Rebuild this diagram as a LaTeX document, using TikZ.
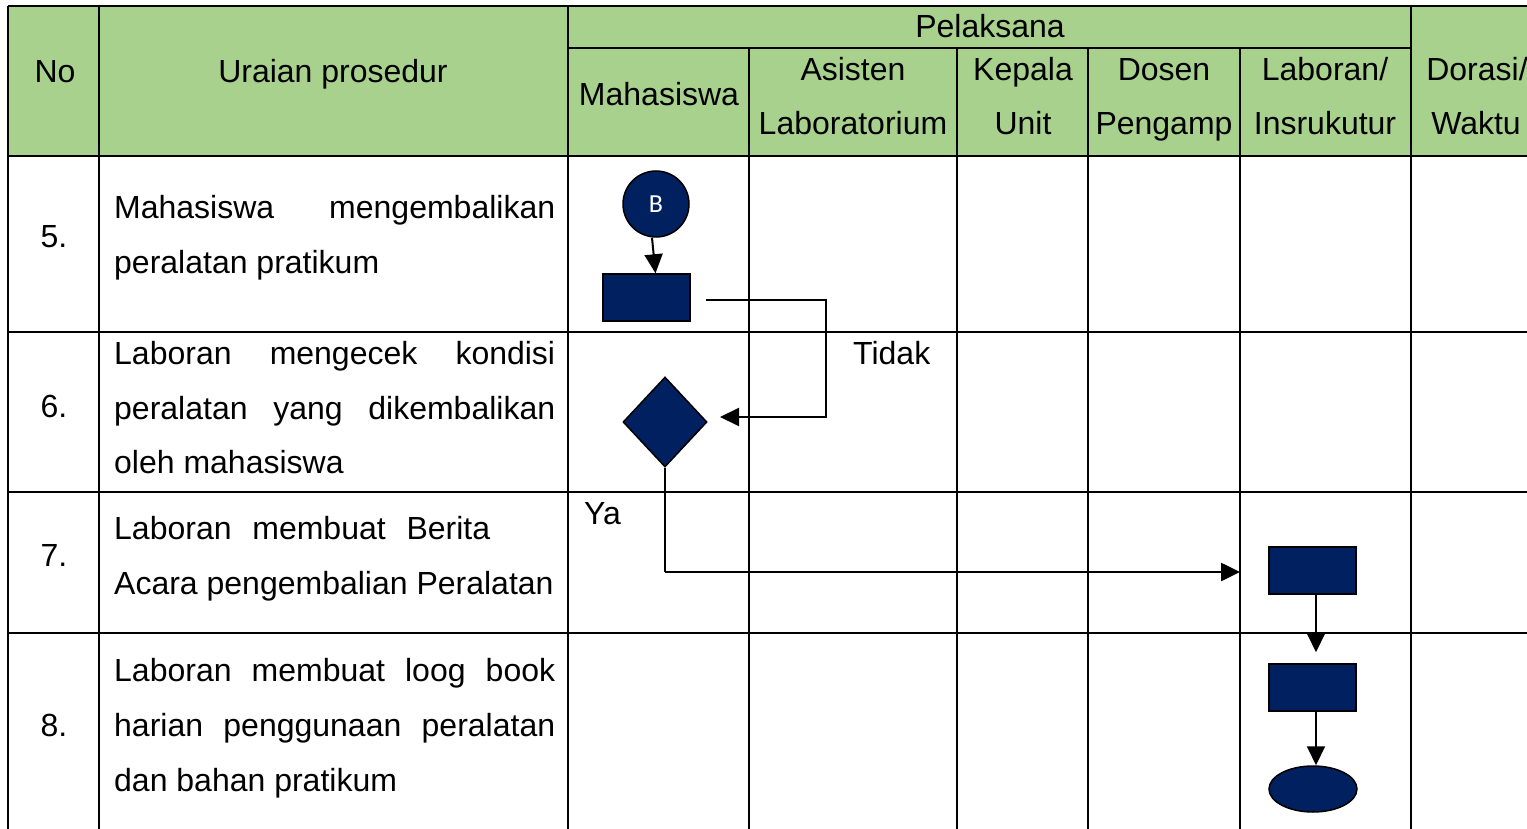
\documentclass[tikz,border=0pt]{standalone}
\usepackage{fontspec}
\setmainfont{Liberation Sans}
\newfontfamily\calfont{Carlito}
\usetikzlibrary{arrows.meta,shapes.geometric,calc}
\definecolor{hdrgreen}{RGB}{169,209,142}
\definecolor{navy}{RGB}{0,32,96}
\begin{document}
\begin{tikzpicture}[x=1pt,y=-1pt,
  grid/.style={line width=2.2pt,black},
  txt/.style={anchor=base,inner sep=0pt,font=\fontsize{32}{38}\selectfont},
  ltxt/.style={anchor=base west,inner sep=0pt,font=\fontsize{32}{38}\selectfont},
  shp/.style={draw=black,fill=navy,line width=1.5pt,inner sep=0pt},
  boxstep/.style={shp,rectangle,minimum width=87pt,minimum height=47pt},
  conn/.style={line width=2pt,-{Triangle[length=19pt,width=18pt]}},
  plain/.style={line width=2pt}]
\useasboundingbox (0,0) rectangle (1527,829);
\clip (0,0) rectangle (1527,829);
% header fill
\fill[hdrgreen] (8,6) rectangle (1540,156);
% grid
\draw[grid] (8,6) -- (1540,6);
\draw[grid] (568,48) -- (1411,48);
\draw[grid] (8,156) -- (1540,156);
\draw[grid] (8,332) -- (1540,332);
\draw[grid] (8,492) -- (1540,492);
\draw[grid] (8,633) -- (1540,633);
\draw[grid] (8,6) -- (8,840);
\draw[grid] (99,6) -- (99,840);
\draw[grid] (568,6) -- (568,840);
\draw[grid] (749,48) -- (749,840);
\draw[grid] (957,48) -- (957,840);
\draw[grid] (1088,48) -- (1088,840);
\draw[grid] (1240,48) -- (1240,840);
\draw[grid] (1411,6) -- (1411,840);
% header texts
\node[txt] (hno) at (55,83) {No};
\node[txt] (hur) at (333,83) {Uraian prosedur};
\node[txt] (hpel) at (990,38) {Pelaksana};
\node[txt] (hmhs) at (659,106) {Mahasiswa};
\node[txt] (has1) at (853,81) {Asisten};
\node[txt] (has2) at (853,135) {Laboratorium};
\node[txt] (hkp1) at (1023,81) {Kepala};
\node[txt] (hkp2) at (1023,135) {Unit};
\node[txt] (hds1) at (1164,81) {Dosen};
\node[txt] (hds2) at (1164,135) {Pengamp};
\node[txt] (hlb1) at (1325,81) {Laboran/};
\node[txt] (hlb2) at (1325,135) {Insrukutur};
\node[txt] (hdr1) at (1477,81) {Dorasi/};
\node[txt] (hdr2) at (1476,135) {Waktu};
% numbers
\node[txt] (n5) at (54,248) {5.};
\node[txt] (n6) at (54,417) {6.};
\node[txt] (n7) at (54,566) {7.};
\node[txt] (n8) at (54,736) {8.};
% descriptions
\node[ltxt] (d5a) at (114,219) {\makebox[441pt][s]{Mahasiswa mengembalikan}};
\node[ltxt] (d5b) at (114,274) {peralatan pratikum};
\node[ltxt] (d6a) at (114,364) {\makebox[441pt][s]{Laboran mengecek kondisi}};
\node[ltxt] (d6b) at (114,419) {\makebox[441pt][s]{peralatan yang dikembalikan}};
\node[ltxt] (d6c) at (114,473) {oleh mahasiswa};
\node[ltxt] (d7a) at (114,539) {\makebox[376pt][s]{Laboran membuat Berita}};
\node[ltxt] (d7b) at (114,594) {Acara pengembalian Peralatan};
\node[ltxt] (d8a) at (114,681) {\makebox[441pt][s]{Laboran membuat loog book}};
\node[ltxt] (d8b) at (114,736) {\makebox[441pt][s]{harian penggunaan peralatan}};
\node[ltxt] (d8c) at (114,791) {dan bahan pratikum};
% flow shapes
\node[shp,circle,minimum size=66pt,text=white,font=\calfont\fontsize{26}{30}\selectfont] (B) at (656,204) {B};
\node[boxstep] (r1) at (646.5,297.5) {};
\node[shp,diamond,minimum width=84pt,minimum height=90pt] (dec) at (665,422) {};
\node[boxstep] (r2) at (1312.5,570.5) {};
\node[boxstep] (r3) at (1312.5,687.5) {};
\node[shp,ellipse,minimum width=88pt,minimum height=46pt] (end) at (1313,789) {};
% labels
\node[ltxt] (tidak) at (853,364) {Tidak};
\node[ltxt] (ya) at (584,524) {Ya};
% connectors
\coordinate (c1s) at (706,300);
\coordinate (c1a) at (826,300);
\coordinate (c1b) at (826,417);
\coordinate (c1e) at (720,417);
\coordinate (c2a) at (665,572);
\coordinate (r2in) at (1240,572);
\draw[conn] ([xshift=-4pt]B.south) -- ([xshift=9pt]r1.north);
\draw[conn] (c1s) -- (c1a) -- (c1b) -- (c1e);
\draw[line width=2pt] (dec.south) -- (c2a);
\draw[conn,line width=2.6pt] (c2a) -- (r2in);
\draw[conn] ([xshift=3.5pt]r2.south) -- ([xshift=3.5pt,yshift=11pt]r3.north);
\draw[conn] ([xshift=3.5pt]r3.south) -- ([xshift=3pt]end.north);
\end{tikzpicture}
\end{document}
